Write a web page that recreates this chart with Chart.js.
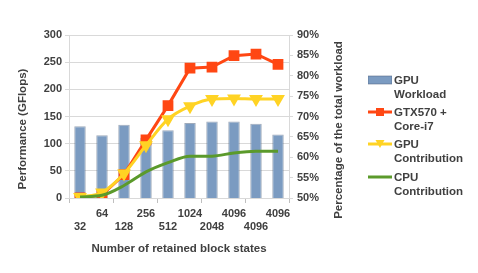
<!DOCTYPE html>
<html>
<head>
<meta charset="utf-8">
<script src="https://cdn.jsdelivr.net/npm/chart.js@4.4.1/dist/chart.umd.min.js"></script>
<style>
  html, body { margin: 0; padding: 0; background: #fff; }
  #wrap { position: relative; width: 478px; height: 273px; }
  #legend { position: absolute; left: 368px; top: 73px; font: bold 11.5px "Liberation Sans", Arial, sans-serif; color: #404040; }
  .item { position: absolute; left: 0; width: 110px; }
  .item svg { position: absolute; left: 0; }
  .item span { position: absolute; left: 26px; line-height: 14px; white-space: nowrap; }
</style>
</head>
<body>
<div id="wrap">
  <canvas id="myChart" width="478" height="273"></canvas>
  <div id="legend"></div>
</div>
<script>
const blockStates = ["32", "64", "128", "256", "512", "1024", "2048", "4096", "4096", "4096"];
const gpuWorkload = [67.6, 65.4, 68.0, 64.8, 66.6, 68.4, 68.8, 68.8, 68.2, 65.6];
const gtx570CoreI7 = [0, 6, 43, 107, 170, 239, 241, 262, 265, 246];
const gpuContribution = [2, 10, 45, 97, 145, 169, 182, 183, 182, 182];
const cpuContribution = [2, 5, 23, 48, 65, 77, 77, 83, 86, 86];
const leftTicks = [0, 50, 100, 150, 200, 250, 300];
const rightTicks = [50, 55, 60, 65, 70, 75, 80, 85, 90];

const textColor = "#404040";
const gridColor = "#d9d9d9";
const fontFamily = "'Liberation Sans', Arial, sans-serif";
const font = { family: fontFamily, size: 11, weight: "bold" };

// staggered category labels: odd on the upper row, even on the lower row
const labels = blockStates.map((s, i) => (i % 2 === 0 ? ["", s] : [s, ""]));

// both y titles read bottom to top, centred a bit lower than the plot
const yTitles = {
  id: "yTitles",
  afterDraw(chart) {
    const ctx = chart.ctx;
    ctx.save();
    ctx.font = "bold 11.5px " + fontFamily;
    ctx.fillStyle = textColor;
    ctx.textAlign = "center";
    ctx.textBaseline = "middle";
    [["Performance (GFlops)", 23, 129], ["Percentage of the total workload", 339, 130]].forEach(([t, x, y]) => {
      ctx.save();
      ctx.translate(x, y);
      ctx.rotate(-Math.PI / 2);
      ctx.fillText(t, 0, 0);
      ctx.restore();
    });
    ctx.restore();
  },
};

const data = {
  labels: labels,
  datasets: [
    {
      type: "line",
      label: "CPU Contribution",
      data: cpuContribution,
      yAxisID: "y",
      borderColor: "#5b9a2b",
      backgroundColor: "#5b9a2b",
      borderWidth: 3,
      pointRadius: 0,
      cubicInterpolationMode: "monotone",
      order: 1,
    },
    {
      type: "line",
      label: "GPU Contribution",
      data: gpuContribution,
      yAxisID: "y",
      borderColor: "#ffd324",
      backgroundColor: "#ffd324",
      borderWidth: 3,
      pointStyle: "triangle",
      rotation: 180,
      pointRadius: 5,
      cubicInterpolationMode: "monotone",
      order: 2,
    },
    {
      type: "line",
      label: "GTX570 + Core-i7",
      data: gtx570CoreI7,
      yAxisID: "y",
      borderColor: "#ff4713",
      backgroundColor: "#ff4713",
      borderWidth: 3,
      pointStyle: "rect",
      pointRadius: 5.5,
      order: 3,
    },
    {
      type: "bar",
      label: "GPU Workload",
      data: gpuWorkload,
      yAxisID: "y1",
      backgroundColor: "#7b9bc1",
      borderColor: "rgba(80,100,130,0.55)",
      borderWidth: 1,
      barPercentage: 0.58,
      categoryPercentage: 0.9,
      order: 5,
    },
  ],
};

const config = {
  type: "bar",
  data: data,
  plugins: [yTitles],
  options: {
    responsive: false,
    animation: false,
    layout: { padding: { left: 12, right: 132, top: 35, bottom: 13 } },
    plugins: { legend: { display: false }, tooltip: { enabled: false } },
    scales: {
      x: {
        afterFit: (s) => { s.height = 62; },
        grid: {
          offset: true,
          drawOnChartArea: false,
          tickLength: 5,
          tickColor: (c) => (c.index === undefined || c.index % 2 === 0 ? "#bfbfbf" : "transparent"),
        },
        border: { color: gridColor },
        ticks: { font: font, color: textColor, autoSkip: false, maxRotation: 0, padding: 4 },
        title: { display: true, text: "Number of retained block states", font: { ...font, size: 11.5 }, color: textColor, padding: { top: 4, bottom: 4 } },
      },
      y: {
        position: "left",
        min: 0,
        max: 300,
        afterFit: (s) => { s.width = 57; },
        afterBuildTicks: (s) => { s.ticks = leftTicks.map((v) => ({ value: v })); },
        grid: { color: gridColor, tickLength: 4 },
        border: { color: gridColor },
        ticks: { font: font, color: textColor, padding: 3 },
      },
      y1: {
        position: "right",
        min: 50,
        max: 90,
        afterFit: (s) => { s.width = 57; },
        afterBuildTicks: (s) => { s.ticks = rightTicks.map((v) => ({ value: v })); },
        grid: { drawOnChartArea: false, tickLength: 4, tickColor: gridColor },
        border: { color: gridColor },
        ticks: { font: font, color: textColor, padding: 4, callback: (v) => v + "%" },
      },
    },
  },
};

const myChart = new Chart(document.getElementById("myChart"), config);

// legend drawn as html so the labels can wrap onto two lines
const legendItems = [
  { text: ["GPU", "Workload"], top: 0, sym: '<rect x="0" y="3" width="24" height="8" fill="#7b9bc1" stroke="rgba(80,100,130,0.55)"/>' },
  { text: ["GTX570 +", "Core-i7"], top: 32, sym: '<line x1="0" y1="7" x2="24" y2="7" stroke="#ff4713" stroke-width="3"/><rect x="8" y="3" width="8" height="8" fill="#ff4713"/>' },
  { text: ["GPU", "Contribution"], top: 64, sym: '<line x1="0" y1="7" x2="24" y2="7" stroke="#ffd324" stroke-width="3"/><polygon points="7.5,3 16.5,3 12,11" fill="#ffd324"/>' },
  { text: ["CPU", "Contribution"], top: 97, sym: '<line x1="0" y1="7" x2="24" y2="7" stroke="#5b9a2b" stroke-width="3"/>' },
];
const legendEl = document.getElementById("legend");
legendItems.forEach((it) => {
  const d = document.createElement("div");
  d.className = "item";
  d.style.top = it.top + "px";
  d.innerHTML = '<svg width="24" height="14">' + it.sym + "</svg><span>" + it.text.join("<br>") + "</span>";
  legendEl.appendChild(d);
});
</script>
</body>
</html>
